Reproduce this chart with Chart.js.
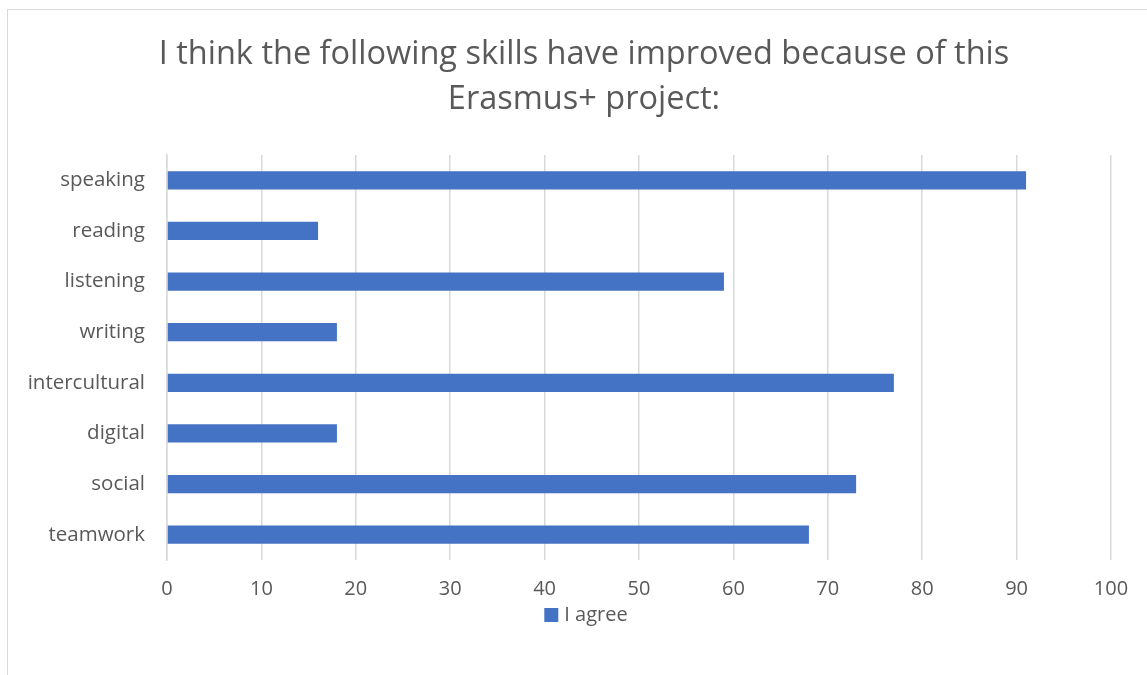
<!DOCTYPE html>
<html>
<head>
<meta charset="utf-8">
<script src="https://cdn.jsdelivr.net/npm/chart.js@4"></script>
<style>
  html, body { margin: 0; padding: 0; background: #fff; overflow: hidden; }
  #frame { position: absolute; left: 7px; top: 9px; width: 1150px; height: 700px; border: 1px solid #d9d9d9; }
  #chart { position: absolute; left: 0; top: 0; }
</style>
</head>
<body>
<div id="frame"></div>
<canvas id="chart" width="1147" height="675"></canvas>
<script>
/* skills survey, horizontal bars */
var skills = ['speaking', 'reading', 'listening', 'writing', 'intercultural', 'digital', 'social', 'teamwork'];
var agree = [91, 16, 59, 18, 77, 18, 73, 68];
var titleLines = ['I think the following skills have improved because of this', 'Erasmus+ project:'];
var seriesName = 'I agree';

var grey = '#595959';
var font = '"Open Sans", "Noto Sans", sans-serif';

/* title + legend are centred on the outer frame, not on the plot,
   so they are drawn here instead of by the built-in plugins */
var frameText = {
  id: 'frameText',
  afterDraw: function (chart) {
    var ctx = chart.ctx;
    var cx = 584;
    ctx.save();
    ctx.fillStyle = grey;
    ctx.textAlign = 'center';
    ctx.textBaseline = 'middle';
    ctx.font = '32.5px ' + font;
    ctx.fillText(titleLines[0], cx, 55);
    ctx.fillText(titleLines[1], cx, 100);

    var ds = chart.data.datasets[0];
    ctx.font = '20px ' + font;
    var tw = ctx.measureText(ds.label).width;
    var total = 14 + 6 + tw;
    var x0 = cx + 2 - total / 2;
    ctx.fillStyle = ds.backgroundColor;
    ctx.fillRect(x0, 608, 14, 14);
    ctx.fillStyle = grey;
    ctx.textAlign = 'left';
    ctx.fillText(ds.label, x0 + 20, 615);
    ctx.restore();
  }
};

new Chart(document.getElementById('chart'), {
  type: 'bar',
  data: {
    labels: skills,
    datasets: [
      { label: seriesName, data: agree, backgroundColor: '#4472C4', borderWidth: 0,
        barPercentage: 0.36, categoryPercentage: 1 }
    ]
  },
  options: {
    indexAxis: 'y',
    responsive: false,
    animation: false,
    layout: { padding: { left: 0, right: 36, top: 155, bottom: 75 } },
    plugins: {
      title: { display: false },
      legend: { display: false },
      tooltip: { enabled: false }
    },
    scales: {
      x: {
        min: 0, max: 100,
        afterFit: function (s) { s.height = 40; },
        ticks: { stepSize: 10, color: grey, padding: 17, font: { family: font, size: 20 } },
        grid: { color: '#d9d9d9', lineWidth: 1.5, drawTicks: false },
        border: { display: false }
      },
      y: {
        afterFit: function (s) { s.width = 167; },
        ticks: { color: grey, padding: 14, font: { family: font, size: 20.5 } },
        grid: { display: false },
        border: { color: '#d9d9d9', width: 1.5 }
      }
    }
  },
  plugins: [frameText]
});
</script>
</body>
</html>
